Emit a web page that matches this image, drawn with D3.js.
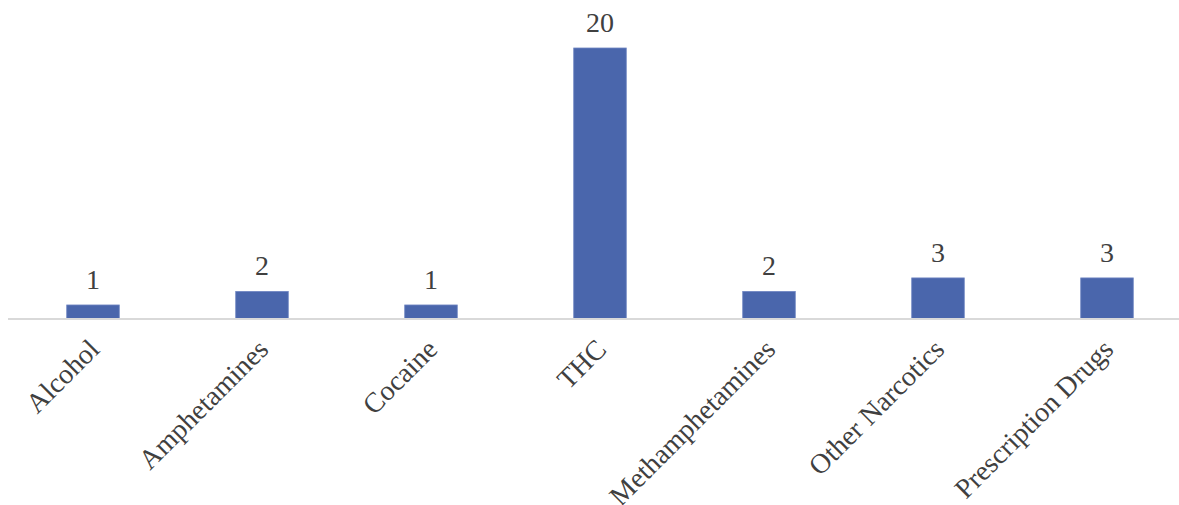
<!DOCTYPE html>
<html>
<head>
<meta charset="utf-8">
<script src="https://cdn.jsdelivr.net/npm/d3@7"></script>
<style>
html,body{margin:0;padding:0;background:#fff;}
svg{display:block;}
text{font-family:"Liberation Serif","Times New Roman",serif;fill:#404040;}
</style>
</head>
<body>
<svg id="chart" width="1179" height="505"></svg>
<script>
const categories = ["Alcohol","Amphetamines","Cocaine","THC","Methamphetamines","Other Narcotics","Prescription Drugs"];
const values = [1,2,1,20,2,3,3];

const svg = d3.select("#chart");
const x = d3.scaleBand().domain(categories).range([8.5, 1191.5]).paddingInner(0.689).paddingOuter(0.3445);
const y = d3.scaleLinear().domain([0, 20]).range([318.5, 48]);

svg.selectAll("rect.bar").data(categories).enter().append("rect")
  .attr("class","bar")
  .attr("x", d => x(d))
  .attr("width", x.bandwidth())
  .attr("y", (d,i) => y(values[i]))
  .attr("height", (d,i) => y(0) - y(values[i]))
  .attr("fill", "#4a66ac")
  .attr("stroke", "#6f86c2")
  .attr("stroke-width", 0.8);

svg.append("line")
  .attr("x1", 8).attr("x2", 1179)
  .attr("y1", y(0)+0.5).attr("y2", y(0)+0.5)
  .attr("stroke", "#d9d9d9").attr("stroke-width", 2);

svg.selectAll("text.val").data(categories).enter().append("text")
  .attr("class","val")
  .attr("x", d => x(d) + x.bandwidth()/2)
  .attr("y", (d,i) => y(values[i]) - 16)
  .attr("text-anchor","middle")
  .style("font-size","28px")
  .text((d,i) => values[i]);

svg.selectAll("text.cat").data(categories).enter().append("text")
  .attr("class","cat")
  .attr("transform", d => `translate(${x(d) + x.bandwidth()/2 + 8},${351}) rotate(-45)`)
  .attr("text-anchor","end")
  .style("font-size","28px")
  .text(d => d);
</script>
</body>
</html>
